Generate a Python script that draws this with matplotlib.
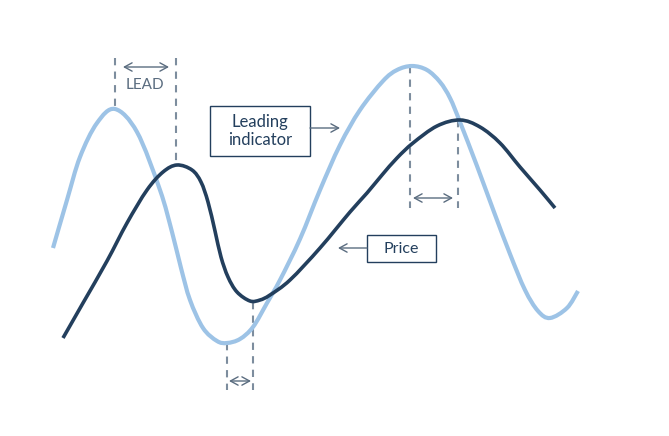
import matplotlib.pyplot as plt
from matplotlib.path import Path
from matplotlib.patches import PathPatch

# Leading indicator curve (light blue), pixel coords
lead_x = [53, 67, 80, 97, 115, 137, 160, 172, 181, 190, 203, 217, 227, 240,
          253, 267, 280, 300, 320, 340, 360, 383, 397, 412, 427, 440, 450,
          460, 477, 494, 510, 525, 538, 550, 567, 578]
lead_y = [248, 200, 157, 123, 109, 132, 190, 232, 268, 300, 328, 341, 343,
          339, 327, 303, 280, 239, 190, 145, 110, 81, 70, 66, 70, 82, 98,
          122, 166, 212, 254, 290, 311, 318, 308, 291]

# Price curve (dark navy)
price_x = [63, 83, 107, 127, 147, 163, 177, 192, 201, 208, 215, 221, 228,
           237, 250, 260, 270, 290, 320, 350, 367, 382, 397, 413, 437, 460,
           480, 500, 520, 540, 555]
price_y = [338, 303, 261, 223, 190, 172, 165, 170, 182, 202, 231, 257, 277,
           292, 301, 300, 295, 280, 248, 212, 193, 175, 158, 143, 126, 120,
           127, 143, 167, 190, 208]

# dashed guides: x, top, bottom
guide_x = [115, 176, 227, 253, 410, 458]
guide_top = [58, 58, 343, 302, 66, 120]
guide_bot = [107, 164, 390, 390, 208, 208]

# double arrows showing the lead: x0, x1, y
lead_arrows = [(123, 169, 67), (229, 251, 381), (413, 453, 198)]

LIGHT = "#9dc3e6"
DARK = "#233f5d"
GUIDE = "#7d8d9e"
ARROW = "#5b6d80"
FONT = "Lato"


def smooth_path(xs, ys):
    # cubic bezier through the read points (catmull-rom handles)
    pts = list(zip(xs, ys))
    verts = [pts[0]]
    codes = [Path.MOVETO]
    for i in range(len(pts) - 1):
        p0 = pts[i - 1] if i > 0 else pts[i]
        p1, p2 = pts[i], pts[i + 1]
        p3 = pts[i + 2] if i + 2 < len(pts) else p2
        c1 = (p1[0] + (p2[0] - p0[0]) / 6, p1[1] + (p2[1] - p0[1]) / 6)
        c2 = (p2[0] - (p3[0] - p1[0]) / 6, p2[1] - (p3[1] - p1[1]) / 6)
        verts += [c1, c2, p2]
        codes += [Path.CURVE4] * 3
    return Path(verts, codes)


fig = plt.figure(figsize=(6.69, 4.36), dpi=100)
ax = fig.add_axes([0, 0, 1, 1])
ax.set_xlim(0, 669)
ax.set_ylim(436, 0)
ax.axis("off")

ax.add_patch(PathPatch(smooth_path(lead_x, lead_y), fill=False, ec=LIGHT,
                       lw=3.0, capstyle="butt", zorder=2))
ax.add_patch(PathPatch(smooth_path(price_x, price_y), fill=False, ec=DARK,
                       lw=2.6, capstyle="butt", zorder=3))

for gx, t, b in zip(guide_x, guide_top, guide_bot):
    ax.plot([gx, gx], [t, b], color=GUIDE, lw=1.5, ls=(0, (3.5, 3)), zorder=1)

for x0, x1, y in lead_arrows:
    ax.annotate("", xy=(x1, y), xytext=(x0, y),
                arrowprops=dict(arrowstyle="<->,head_length=0.55,head_width=0.3",
                                color=ARROW, lw=1.0, shrinkA=0, shrinkB=0))

ax.text(145, 85, "LEAD", ha="center", va="center", fontsize=11,
        family=FONT, color=ARROW)

# label boxes
ax.add_patch(plt.Rectangle((210, 106), 100, 50, fill=False, ec=DARK, lw=1.0))
ax.text(260, 131, "Leading\nindicator", ha="center", va="center", fontsize=12,
        family=FONT, color=DARK, linespacing=1.15)
ax.annotate("", xy=(340, 128), xytext=(310, 128),
            arrowprops=dict(arrowstyle="->,head_length=0.55,head_width=0.3",
                            color=ARROW, lw=1.0, shrinkA=0, shrinkB=0))

ax.add_patch(plt.Rectangle((367, 235), 69, 27, fill=False, ec=DARK, lw=1.0))
ax.text(401.5, 249, "Price", ha="center", va="center", fontsize=11.5,
        family=FONT, color=DARK)
ax.annotate("", xy=(338, 248), xytext=(367, 248),
            arrowprops=dict(arrowstyle="->,head_length=0.55,head_width=0.3",
                            color=ARROW, lw=1.0, shrinkA=0, shrinkB=0))

fig.savefig("out.png", dpi=100)
